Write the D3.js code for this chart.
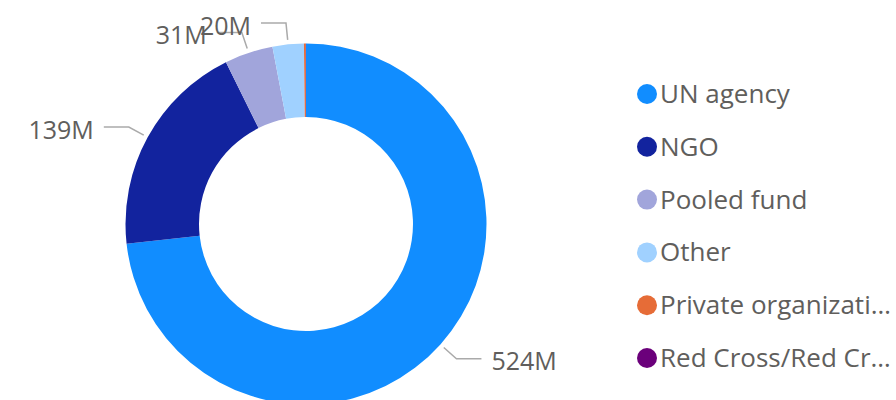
<!DOCTYPE html>
<html>
<head>
<meta charset="utf-8">
<script src="https://cdn.jsdelivr.net/npm/d3@7"></script>
<style>
  html, body { margin: 0; padding: 0; background: #fff; }
  svg { display: block; }
  text { font-family: "Open Sans", "Noto Sans", sans-serif; }
</style>
</head>
<body>
<svg id="chart" width="896" height="400"></svg>
<script>
// ---- data ----
const categories = ["UN agency", "NGO", "Pooled fund", "Other", "Private organization", "Red Cross/Red Crescent Movement"];
const values = [524, 139, 31, 20, 1.2, 0.1];
const colors = ["#118DFF", "#12239E", "#A1A5DB", "#A0D1FF", "#E66C37", "#6B007B"];
const labelText = ["524M", "139M", "31M", "20M", null, null];

const svg = d3.select("#chart");
const cx = 306, cy = 224;
const outerR = 180.5, innerR = 107;

const data = categories.map((c, i) => ({ cat: c, value: values[i], color: colors[i], label: labelText[i] }));

const pie = d3.pie().value(d => d.value).sort(null).startAngle(0).endAngle(2 * Math.PI);
const arcs = pie(data);
const arc = d3.arc().innerRadius(innerR).outerRadius(outerR);

const g = svg.append("g").attr("transform", `translate(${cx},${cy})`);
g.selectAll("path.slice")
  .data(arcs)
  .join("path")
  .attr("class", "slice")
  .attr("d", arc)
  .attr("fill", d => d.data.color);

// leader lines + labels
const startArc = d3.arc().innerRadius(185).outerRadius(185);
const elbowArc = d3.arc().innerRadius(202).outerRadius(202);
const hLen = 25, gap = 10;
const labelled = arcs.filter(d => d.data.label);
labelled.forEach(d => {
  const p0 = startArc.centroid(d);
  const p1 = elbowArc.centroid(d);
  const mid = (d.startAngle + d.endAngle) / 2;
  const right = mid < Math.PI;
  const p2 = [p1[0] + (right ? hLen : -hLen), p1[1]];
  g.append("polyline")
    .attr("points", [p0, p1, p2].map(p => p.join(",")).join(" "))
    .attr("fill", "none")
    .attr("stroke", "#AAAAAA")
    .attr("stroke-width", 1.5);
  g.append("text")
    .attr("x", p2[0] + (right ? gap : -gap))
    .attr("y", p2[1] + 1.5)
    .attr("dominant-baseline", "central")
    .attr("text-anchor", right ? "start" : "end")
    .attr("font-size", 25)
    .attr("fill", "#605E5C")
    .text(d.data.label);
});

// legend
const legX = 647, legY0 = 94, legStep = 52.8, maxTextW = 896 - 662 - 2;
const leg = svg.append("g");
data.forEach((d, i) => {
  const y = legY0 + i * legStep;
  leg.append("circle").attr("cx", legX).attr("cy", y).attr("r", 10).attr("fill", d.color);
  const t = leg.append("text")
    .attr("x", legX + 13)
    .attr("y", y - 1)
    .attr("dominant-baseline", "central")
    .attr("font-size", 26)
    .attr("fill", "#605E5C")
    .text(d.cat);
  let s = d.cat;
  if (t.node().getComputedTextLength() > maxTextW) {
    while (s.length > 1) {
      s = s.slice(0, -1);
      t.text(s.trimEnd() + "…");
      if (t.node().getComputedTextLength() <= maxTextW) break;
    }
  }
});
</script>
</body>
</html>
